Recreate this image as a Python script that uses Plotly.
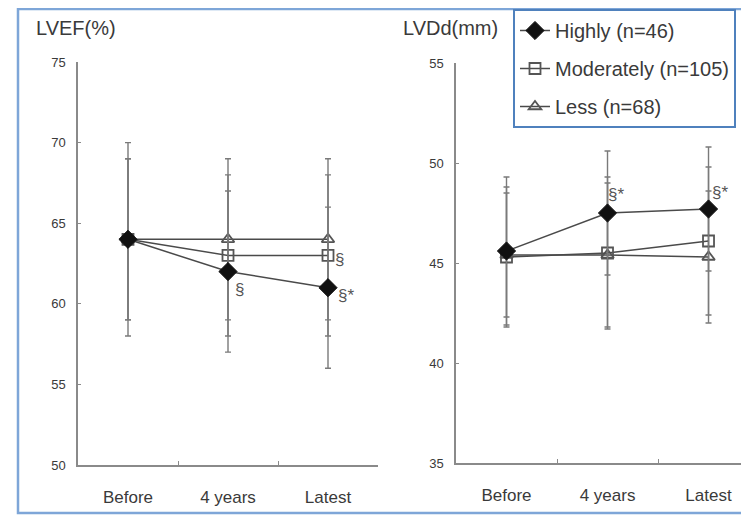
import plotly.graph_objects as go

W, H = 749, 516
OFF = 8  # page body margin in the browser

categories = ["Before", "4 years", "Latest"]
series_names = ["Highly (n=46)", "Moderately (n=105)", "Less (n=68)"]

# LVEF (%)
lvef_highly = [64, 62, 61]
lvef_moderately = [64, 63, 63]
lvef_less = [64, 64, 64]
lvef_highly_sd = [6, 5, 5]
lvef_moderately_sd = [5, 5, 5]
lvef_less_sd = [5, 5, 5]

# LVDd (mm)
lvdd_highly = [45.6, 47.5, 47.7]
lvdd_moderately = [45.3, 45.5, 46.1]
lvdd_less = [45.4, 45.4, 45.3]
lvdd_highly_sd = [3.7, 3.1, 3.1]
lvdd_moderately_sd = [3.5, 3.8, 3.7]
lvdd_less_sd = [3.1, 3.6, 3.3]

lvef_ticks = [50, 55, 60, 65, 70, 75]
lvdd_ticks = [35, 40, 45, 50, 55]

FONT = "Liberation Sans, Arial"
LINE = "#4a4a4a"
AX = "#8a8a8a"
TXT = "#3a3a3a"

def px(x):
    return (x - OFF) / W

def py(y):
    return 1 - (y - OFF) / H

markers = [
    dict(symbol="diamond", size=14, color="#111111", line=dict(color="#111111", width=1)),
    dict(symbol="square-open", size=11, color="#555555", line=dict(width=1.8)),
    dict(symbol="triangle-up-open", size=11, color="#555555", line=dict(width=1.8)),
]

fig = go.Figure()

lvef = [(lvef_highly, lvef_highly_sd), (lvef_moderately, lvef_moderately_sd), (lvef_less, lvef_less_sd)]
lvdd = [(lvdd_highly, lvdd_highly_sd), (lvdd_moderately, lvdd_moderately_sd), (lvdd_less, lvdd_less_sd)]

# draw in order less, moderately, highly so highly on top
for i in [2, 1, 0]:
    vals, sd = lvef[i]
    fig.add_trace(go.Scatter(
        x=categories, y=vals, name=series_names[i], mode="lines+markers",
        line=dict(color=LINE, width=1.5), marker=markers[i],
        error_y=dict(type="data", array=sd, color="#7a7a7a", thickness=1.4, width=3),
        xaxis="x", yaxis="y", legendgroup=series_names[i], legendrank=i + 1,
        showlegend=True,
    ))
for i in [2, 1, 0]:
    vals, sd = lvdd[i]
    fig.add_trace(go.Scatter(
        x=categories, y=vals, name=series_names[i], mode="lines+markers",
        line=dict(color=LINE, width=1.5), marker=markers[i],
        error_y=dict(type="data", array=sd, color="#7a7a7a", thickness=1.4, width=3),
        xaxis="x2", yaxis="y2", legendgroup=series_names[i], showlegend=False,
    ))

base = dict(showgrid=False, zeroline=False, showline=True, linecolor=AX, linewidth=1.5,
            ticks="inside", tickcolor=AX, tickwidth=1.2)
xfont = dict(family=FONT, size=17, color=TXT)
yfont = dict(family=FONT, size=13, color=TXT)

fig.update_layout(
    width=W, height=H,
    margin=dict(l=0, r=0, t=0, b=0, autoexpand=False),
    paper_bgcolor="white", plot_bgcolor="white",
    xaxis=dict(domain=[px(78), px(378)], anchor="y", type="category", range=[-0.5, 2.5],
               tickson="boundaries", ticklen=4, ticklabelstandoff=16, tickfont=xfont, **base),
    yaxis=dict(domain=[py(465), py(62)], anchor="x", range=[50, 75], tickvals=lvef_ticks,
               ticklen=3, ticklabelstandoff=8, tickfont=yfont, **base),
    xaxis2=dict(domain=[px(456), 1.0], anchor="y2", type="category", range=[-0.5, 2.48],
                tickson="boundaries", ticklen=4, ticklabelstandoff=16, tickfont=xfont, **base),
    yaxis2=dict(domain=[py(463), py(63)], anchor="x2", range=[35, 55], tickvals=lvdd_ticks,
                ticklen=3, ticklabelstandoff=8, tickfont=yfont, **base),
    showlegend=True,
    legend=dict(x=px(513), y=py(9), xanchor="left", yanchor="top",
                bgcolor="white", bordercolor="#4f81bd", borderwidth=2,
                font=dict(family=FONT, size=20, color=TXT),
                traceorder="grouped", tracegroupgap=9, itemwidth=30),
    shapes=[dict(type="rect", xref="paper", yref="paper", x0=px(18), x1=px(780), y0=py(513), y1=py(9),
                 line=dict(color="#7ea6d8", width=2.5), layer="below")],
)

tfont = dict(family=FONT, size=20, color=TXT)
ann = []
ann.append(dict(text="LVEF(%)", xref="paper", yref="paper", x=px(34), y=py(28), xanchor="left",
                yanchor="middle", showarrow=False, font=tfont))
ann.append(dict(text="LVDd(mm)", xref="paper", yref="paper", x=px(401), y=py(28), xanchor="left",
                yanchor="middle", showarrow=False, font=tfont))
sfont = dict(family=FONT, size=17, color="#555555")
# left panel significance marks
ann.append(dict(text="§", xref="x", yref="y", x="4 years", y=lvef_highly[1], xshift=11, yshift=-18,
                showarrow=False, font=sfont))
ann.append(dict(text="§", xref="x", yref="y", x="Latest", y=lvef_moderately[2], xshift=11, yshift=-4,
                showarrow=False, font=sfont))
ann.append(dict(text="§*", xref="x", yref="y", x="Latest", y=lvef_highly[2], xshift=18, yshift=-8,
                showarrow=False, font=sfont))
# right panel significance marks
ann.append(dict(text="§*", xref="x2", yref="y2", x="4 years", y=lvdd_highly[1], xshift=8, yshift=19,
                showarrow=False, font=sfont))
ann.append(dict(text="§*", xref="x2", yref="y2", x="Latest", y=lvdd_highly[2], xshift=11, yshift=17,
                showarrow=False, font=sfont))
fig.update_layout(annotations=ann)

fig.write_html("out.html")
